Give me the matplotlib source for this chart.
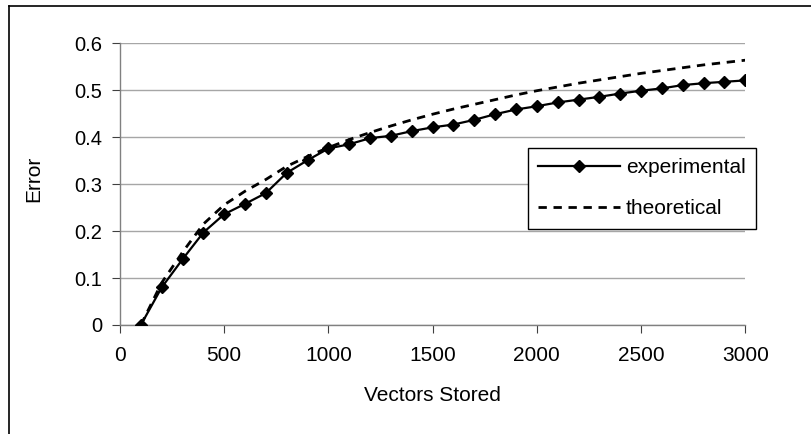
import numpy as np
import matplotlib.pyplot as plt
from matplotlib.lines import Line2D

plt.rcParams['font.family'] = ['Liberation Sans', 'DejaVu Sans']

vectors = np.arange(100, 3100, 100)

err_exp = np.array([0.0, 0.08, 0.14, 0.197, 0.236, 0.258, 0.281, 0.324, 0.351, 0.376,
                    0.385, 0.398, 0.403, 0.413, 0.421, 0.427, 0.437, 0.449, 0.459, 0.466,
                    0.474, 0.480, 0.486, 0.493, 0.499, 0.504, 0.511, 0.515, 0.518, 0.521])

err_theo = np.array([0.0, 0.09, 0.155, 0.215, 0.256, 0.285, 0.31, 0.338, 0.359, 0.378,
                     0.395, 0.41, 0.424, 0.437, 0.449, 0.46, 0.47, 0.48, 0.49, 0.499,
                     0.507, 0.515, 0.522, 0.529, 0.536, 0.542, 0.548, 0.554, 0.559, 0.564])

fig = plt.figure(figsize=(8.11, 4.34), dpi=100)
ax = fig.add_axes([120/811, 1-325/434, 625.3/811, 281.7/434])

ax.plot(vectors, err_exp, color='black', lw=1.6, marker='D', ms=6.5,
        label='experimental', zorder=3)
ax.plot(vectors, err_theo, color='black', lw=2.0, ls=(0, (3.0, 2.4)),
        label='theoretical', zorder=2)

ax.set_xlim(0, 3000)
ax.set_ylim(0, 0.6)
ax.set_xticks(np.arange(0, 3001, 500))
ax.set_yticks(np.arange(0, 0.61, 0.1))
ax.set_yticklabels(['0', '0.1', '0.2', '0.3', '0.4', '0.5', '0.6'])

ax.grid(axis='y', color='#a6a6a6', lw=1)
ax.set_axisbelow(True)
for side in ['top', 'right']:
    ax.spines[side].set_visible(False)
for side in ['left', 'bottom']:
    ax.spines[side].set_color('#808080')
    ax.spines[side].set_linewidth(1)

ax.tick_params(axis='x', labelsize=15, length=6, pad=9, color='#404040')
ax.tick_params(axis='y', labelsize=14.5, length=6, pad=7, color='#404040')

ax.set_xlabel('Vectors Stored', fontsize=15)
ax.set_ylabel('Error', fontsize=15)
ax.xaxis.set_label_coords(0.5, -0.215)
ax.yaxis.set_label_coords(-0.123, 0.52)

leg = ax.legend(loc='upper left', bbox_to_anchor=(0.6525, 0.6283), borderaxespad=0,
                fontsize=15, frameon=True, fancybox=False, edgecolor='black',
                framealpha=1, handlelength=3.9, handletextpad=0.3,
                borderpad=0.5, labelspacing=1.05, numpoints=1)
leg.get_frame().set_linewidth(1)

# outer frame around the chart area
x0, y0 = 9/811, 1-5.7/434
fig.add_artist(Line2D([x0, x0], [0, y0], color='black', lw=1.2))
fig.add_artist(Line2D([x0, 1], [y0, y0], color='black', lw=1.2))

fig.savefig('out.png', dpi=100)
